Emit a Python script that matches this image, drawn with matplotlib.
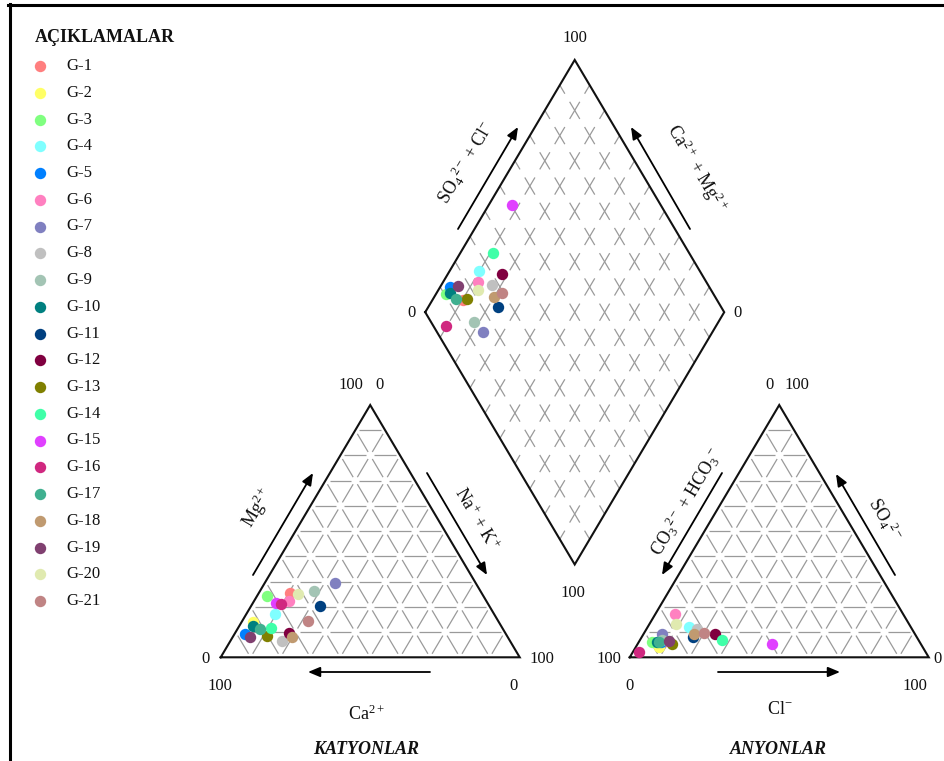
import matplotlib
matplotlib.use('Agg')
import matplotlib.pyplot as plt
from matplotlib.collections import LineCollection
from matplotlib.lines import Line2D
import numpy as np

# ---------------- data (meq %) ----------------
samples = ['G-1', 'G-2', 'G-3', 'G-4', 'G-5', 'G-6', 'G-7', 'G-8', 'G-9', 'G-10',
           'G-11', 'G-12', 'G-13', 'G-14', 'G-15', 'G-16', 'G-17', 'G-18', 'G-19',
           'G-20', 'G-21']
colors = ['#FF7F7F', '#FFFF66', '#80FF80', '#80FFFF', '#0080FF', '#FF80C0', '#8080C0',
          '#C0C0C0', '#A3C4B4', '#008080', '#004080', '#800040', '#808000', '#40FFA8',
          '#E040FF', '#D02880', '#40B090', '#C09A70', '#804070', '#E0EAB0', '#C08484']
ca  = [64.0, 82.1, 72.2, 73.3, 87.4, 65.9, 47.0, 76.3, 55.6, 83.1,
       56.5, 72.2, 80.2, 77.5, 70.7, 69.3, 81.3, 72.0, 86.2, 61.6, 63.5]
mg  = [25.6, 14.1, 24.3, 17.0, 9.2, 22.4, 29.6, 6.6, 26.3, 12.4,
       20.4, 9.7, 8.4, 11.5, 21.4, 21.0, 11.1, 8.2, 7.9, 25.0, 14.5]
cl  = [8.6, 7.6, 4.4, 13.9, 7.3, 6.4, 6.1, 16.8, 7.4, 6.1,
       17.1, 24.0, 11.5, 27.5, 45.0, 1.9, 6.7, 16.9, 9.8, 8.9, 20.0]
so4 = [6.5, 4.2, 6.2, 12.1, 6.0, 17.2, 9.4, 11.1, 7.0, 6.2,
       8.2, 9.2, 5.3, 6.9, 5.3, 2.2, 6.0, 9.1, 6.5, 13.2, 9.5]

# ---------------- style ----------------
plt.rcParams['font.family'] = ['Liberation Serif', 'DejaVu Serif']
plt.rcParams['mathtext.fontset'] = 'custom'
plt.rcParams['mathtext.rm'] = 'Liberation Serif'
plt.rcParams['mathtext.it'] = 'Liberation Serif:italic'
plt.rcParams['mathtext.bf'] = 'Liberation Serif:bold'

W, H = 944, 761
fig = plt.figure(figsize=(W / 100, H / 100), dpi=100)
ax = fig.add_axes([0, 0, 1, 1])
ax.set_axis_off()

# pixel <-> data mapping (triangle side = 100)
X0, SX = 220.7, 2.99
Y0, SY = 657.3, 2.913
ax.set_xlim((0 - X0) / SX, (W - X0) / SX)
ax.set_ylim((Y0 - H) / SY, Y0 / SY)


def P(px, py):
    return ((px - X0) / SX, (Y0 - py) / SY)


h = np.sqrt(3) / 2
gap = 36.8
# cation triangle
cL, cR, cT = np.array([0, 0]), np.array([100, 0]), np.array([50, 100 * h])
# anion triangle
off = 100 + gap
aL, aR, aT = np.array([off, 0]), np.array([off + 100, 0]), np.array([off + 50, 100 * h])
# diamond
dB = np.array([100 + gap / 2, gap * h])
dLv = dB + np.array([-50, 100 * h])
dRv = dB + np.array([50, 100 * h])
dT = dB + np.array([0, 200 * h])

GRID = '#9a9a9a'


def seg_line(A, B, nseg, mode):
    A = np.asarray(A, float)
    B = np.asarray(B, float)
    out = []
    for k in range(nseg):
        p0 = A + (B - A) * k / nseg
        p1 = A + (B - A) * (k + 1) / nseg
        if mode == 'node':
            f = 0.14
            out.append([p0 + (p1 - p0) * f, p0 + (p1 - p0) * (1 - f)])
        else:
            a = 0.34
            out.append([p0, p0 + (p1 - p0) * a])
            out.append([p1 - (p1 - p0) * a, p1])
    return out


def tri_grid(L, R, T):
    segs = []
    for i in range(1, 10):
        t = i / 10
        n = 10 - i
        segs += seg_line(L + t * (T - L), R + t * (T - R), n, 'node')
        s = L + t * (R - L)
        segs += seg_line(s, s + (1 - t) * (T - L), n, 'node')
        s = R + t * (L - R)
        segs += seg_line(s, s + (1 - t) * (T - R), n, 'node')
    ax.add_collection(LineCollection(segs, colors=GRID, linewidths=0.9, zorder=1))
    ax.plot([L[0], R[0], T[0], L[0]], [L[1], R[1], T[1], L[1]], color='#111111',
            lw=1.5, zorder=2, solid_joinstyle='miter')


def dia_grid():
    segs = []
    for i in range(1, 10):
        t = i / 10
        s = dLv + t * (dB - dLv)
        segs += seg_line(s, s + (dT - dLv), 10, 'mid')
        s = dLv + t * (dT - dLv)
        segs += seg_line(s, s + (dB - dLv), 10, 'mid')
    ax.add_collection(LineCollection(segs, colors=GRID, linewidths=0.9, zorder=1))
    xs = [dLv[0], dB[0], dRv[0], dT[0], dLv[0]]
    ys = [dLv[1], dB[1], dRv[1], dT[1], dLv[1]]
    ax.plot(xs, ys, color='#111111', lw=1.5, zorder=2, solid_joinstyle='miter')


tri_grid(cL, cR, cT)
tri_grid(aL, aR, aT)
dia_grid()

# ---------------- points ----------------
for i in range(len(samples)):
    nak = 100 - ca[i] - mg[i]
    S = cl[i] + so4[i]
    cx, cy = nak + mg[i] / 2, mg[i] * h
    axx, ayy = off + cl[i] + so4[i] / 2, so4[i] * h
    dx = dLv[0] + 0.5 * (S + nak)
    dy = dLv[1] + h * (S - nak)
    ax.plot([cx, axx, dx], [cy, ayy, dy], 'o', ms=8.2, color=colors[i],
            mec='none', zorder=5 + i * 0.01)

# ---------------- tick labels ----------------
FS = 12
ticks = [
    ('100', 351, 385), ('0', 380, 385), ('0', 206, 659), ('100', 220, 686),
    ('0', 514, 686), ('100', 542, 659),
    ('0', 770, 385), ('100', 797, 385), ('100', 609, 659), ('0', 629, 686),
    ('100', 915, 686), ('0', 937, 659),
    ('100', 575, 38), ('0', 411, 313), ('0', 737, 313), ('100', 573, 593),
]
for s, px, py in ticks:
    x, y = P(px, py)
    ax.text(x, y, s, fontsize=FS, ha='center', va='center', color='#111111')

# ---------------- arrows ----------------
arrows = [((253, 575), (313, 473)), ((427, 473), (487, 575)), ((430, 672), (308, 672)),
          ((722, 473), (662, 575)), ((895, 575), (836, 474)), ((718, 672), (840, 672)),
          ((458, 229), (518, 127)), ((690, 229), (631, 127))]
for a, b in arrows:
    ax.annotate('', xy=P(*b), xytext=P(*a),
                arrowprops=dict(arrowstyle='-|>,head_length=0.6,head_width=0.25',
                                color='black', lw=1.3, mutation_scale=12,
                                shrinkA=0, shrinkB=0))

ang = np.degrees(np.arctan2(252.3, 149.65))
labels = [
    ('Mg$^{2+}$', 258, 508, ang),
    ('Na$^{+}$ + K$^{+}$', 476, 519, -ang),
    ('Ca$^{2+}$', 366, 714, 0),
    ('CO$_3$$^{2-}$ + HCO$_3$$^{-}$', 687, 502, ang),
    ('SO$_4$$^{2-}$', 884, 519, -ang),
    ('Cl$^{-}$', 780, 710, 0),
    ('SO$_4$$^{2-}$ + Cl$^{-}$', 466, 163, ang),
    ('Ca$^{2+}$ + Mg$^{2+}$', 696, 168, -ang),
]
for s, px, py, r in labels:
    x, y = P(px, py)
    ax.text(x, y, s, fontsize=13, ha='center', va='center', rotation=r,
            rotation_mode='anchor', color='#111111')

for s, px, py in [('KATYONLAR', 366, 749), ('ANYONLAR', 778, 749)]:
    x, y = P(px, py)
    ax.text(x, y, s, fontsize=13, ha='center', va='center', fontweight='bold',
            fontstyle='italic', color='#111111')

# ---------------- legend ----------------
x, y = P(35, 37)
ax.text(x, y, 'AÇIKLAMALAR', fontsize=13, fontweight='bold', ha='left', va='center',
        color='#111111')
for i, s in enumerate(samples):
    py = 66 + 26.75 * i
    mx, my = P(40, py)
    ax.plot([mx], [my], 'o', ms=8.2, color=colors[i], mec='none')
    tx, ty = P(66, py)
    ax.text(tx, ty, s, fontsize=12, ha='left', va='center', color='#111111')

# ---------------- frame ----------------
fig.add_artist(Line2D([9.5 / W, 9.5 / W], [0, 1 - 3.5 / H], transform=fig.transFigure,
                      color='black', lw=2.2))
fig.add_artist(Line2D([8.4 / W, 1], [1 - 4.5 / H, 1 - 4.5 / H], transform=fig.transFigure,
                      color='black', lw=2.2))

fig.savefig('out.png', dpi=100, facecolor='white')
